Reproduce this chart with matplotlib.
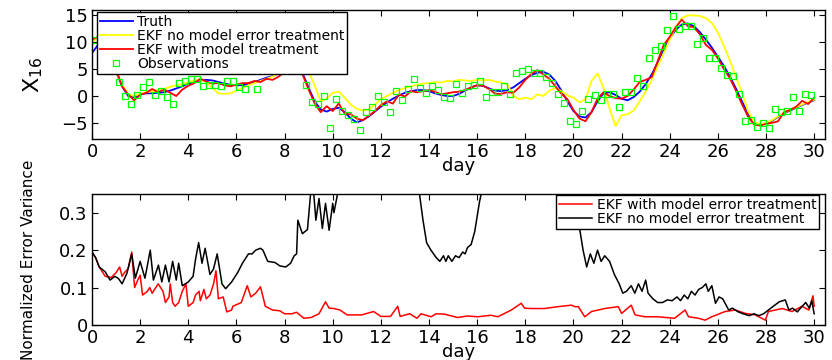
import numpy as np
import matplotlib
matplotlib.use("Agg")
import matplotlib.pyplot as plt

# ---- top panel: X16 state, sampled every 0.25 day ----
day = np.arange(121) * 0.25

truth = [8.0, 9.5, 10.2, 8.0, 4.5, 1.8, 0.0, -0.2, 0.3, 0.5,
         0.5, 0.6, 0.7, 1.0, 1.4, 1.8, 2.3, 2.6, 2.9, 3.0,
         2.9, 2.6, 2.3, 2.1, 2.0, 2.0, 2.3, 2.6, 3.0, 3.4,
         3.7, 4.2, 4.8, 5.3, 5.5, 4.2, 1.5, -1.0, -2.5, -2.9,
         -2.4, -2.2, -3.0, -4.2, -4.9, -4.5, -3.8, -2.9, -2.0, -1.2,
         -0.5, 0.1, 0.6, 0.9, 1.1, 1.1, 0.9, 0.5, 0.2, 0.0,
         0.0, 0.4, 1.0, 1.6, 2.0, 1.9, 1.4, 1.0, 0.9, 1.1,
         1.6, 2.4, 3.2, 3.9, 4.3, 4.5, 4.0, 2.8, 1.0, -1.0,
         -2.8, -3.8, -4.0, -3.0, -1.0, 0.5, 0.7, 0.2, -0.5, -0.8,
         -0.2, 0.8, 2.2, 4.0, 6.2, 8.6, 10.7, 12.3, 13.3, 13.5,
         13.0, 11.9, 10.5, 9.0, 7.3, 5.6, 3.6, 1.4, -1.0, -3.3,
         -5.0, -5.3, -5.1, -4.6, -3.9, -3.2, -2.7, -2.2, -1.7, -1.2,
         -0.8]

ekf_no = [10.0, 11.0, 11.5, 9.0, 4.5, 2.2, 0.3, 0.0, 0.4, 0.7,
          0.9, 1.1, 1.3, 1.7, 2.0, 2.2, 2.6, 2.9, 3.0, 2.6,
          1.5, 0.5, 0.4, 0.5, 1.0, 1.5, 2.0, 2.4, 2.8, 3.2,
          3.6, 4.3, 5.0, 5.8, 6.3, 6.0, 4.5, 2.0, -1.0, -0.5,
          0.6, 0.8, -0.3, -1.6, -2.4, -2.7, -2.5, -1.6, -0.6, 0.0,
          0.6, 1.1, 1.5, 1.8, 2.1, 2.3, 2.4, 2.6, 2.5, 2.8,
          2.7, 3.0, 2.9, 2.8, 3.0, 2.9, 3.0, 2.7, 2.5, 2.2,
          0.0, -0.6, -0.3, -0.6, 0.3, 0.0, 1.0, 1.5, 0.9, 0.1,
          -0.3, -1.2, -0.6, 2.8, 4.2, 1.5, -2.3, -5.6, -3.6, -3.4,
          -2.7, -1.0, 0.8, 3.0, 5.5, 8.0, 10.5, 12.8, 14.5, 15.0,
          15.0, 14.9, 14.5, 13.6, 11.8, 9.3, 6.6, 3.5, 0.6, -2.8,
          -4.8, -5.3, -5.0, -4.5, -3.8, -3.1, -2.6, -2.1, -1.6, -1.1,
          -0.7]

ekf_with = [10.5, 11.0, 10.5, 8.5, 5.0, 1.8, 0.3, -0.8, 0.2, 0.6,
            1.3, 0.7, 1.2, 0.6, 0.0, 1.2, 1.9, 2.4, 3.2, 2.7,
            2.3, 2.4, 2.0, 1.8, 2.1, 2.4, 2.4, 2.8, 2.6, 3.2,
            3.0, 3.6, 4.5, 5.2, 5.6, 4.0, 1.2, -1.4, -3.0, -1.9,
            -2.8, -1.4, -3.3, -3.4, -4.2, -4.5, -3.7, -2.8, -1.7, -1.0,
            -1.4, 0.3, -0.1, 0.9, 0.7, 0.9, 1.1, 0.8, 0.3, 0.5,
            0.7, 0.8, 1.1, 1.6, 2.0, 1.9, 1.3, 0.4, 0.4, 0.7,
            0.6, 1.6, 3.0, 4.1, 4.8, 4.0, 3.2, 1.8, 0.4, -0.6,
            -2.6, -4.2, -4.7, -3.0, -0.5, 0.7, 0.0, -0.4, -0.5, 0.0,
            1.2, 2.6, 3.0, 3.5, 6.5, 9.5, 11.0, 12.8, 14.2, 13.0,
            12.8, 11.5, 9.5, 8.6, 7.0, 5.0, 3.3, 1.0, -1.5, -3.8,
            -5.3, -5.5, -5.2, -5.0, -4.7, -3.0, -2.6, -2.0, -0.9, -1.5,
            -0.3]

# observations every 0.25 day starting at 0.125
obs_day = 0.125 + np.arange(120) * 0.25
obs = [10.5, 11.5, 9.5, 7.0, 2.6, 0.0, -1.5, 0.2, 1.6, 2.6,
       0.1, 1.0, -0.2, -1.5, 2.4, 2.7, 3.2, 3.2, 1.9, 2.1,
       2.1, 1.85, 2.8, 2.8, 1.6, 1.3, 5.0, 1.3, 5.2, 5.0,
       5.4, 5.5, 5.6, 6.2, 5.5, 2.0, -1.05, -1.5, 0.0, -5.9,
       -0.6, -2.8, -3.5, -4.3, -6.4, -2.9, -2.0, 0.0, -1.05, -2.9,
       1.0, -0.7, 1.35, 3.1, 1.5, 0.5, 1.85, 1.1, -0.1, -0.3,
       2.3, 0.5, 1.85, 2.0, 2.7, -0.25, 0.7, 0.7, 1.9, 0.4,
       4.3, 4.6, 5.1, 4.2, 4.2, 3.6, 2.5, 0.45, -1.3, -4.6,
       -5.2, -2.8, -0.5, 0.2, -0.7, 0.3, 0.3, -2.0, 0.8, 0.8,
       3.3, 1.9, 7.1, 8.6, 9.3, 12.2, 14.9, 12.5, 13.1, 13.1,
       9.6, 10.7, 7.1, 7.0, 5.3, 4.0, 3.7, 0.3, -4.6, -4.4,
       -5.7, -5.1, -5.9, -2.4, -3.0, -2.8, -0.1, -2.8, 0.4, 0.1]

# ---- bottom panel: normalized error variance ----
no_t = [0, 0.15, 0.3, 0.55, 0.75, 0.95, 1.1, 1.25, 1.45, 1.65,
        1.8, 2.0, 2.2, 2.42, 2.55, 2.76, 2.9, 3.05, 3.2, 3.35,
        3.5, 3.6, 3.75, 4.0, 4.2, 4.3, 4.43, 4.57, 4.7, 4.9,
        5.05, 5.2, 5.4, 5.55, 5.8, 6.05, 6.25, 6.5, 6.65, 6.8,
        7.0, 7.1, 7.3, 7.6, 7.8, 8.05, 8.25, 8.4, 8.5, 8.55,
        8.74, 8.95, 9.08, 9.2, 9.3, 9.43, 9.57, 9.7, 9.85, 10.0,
        10.05, 10.2, 10.4, 11.0, 12.0, 13.0, 13.5, 13.75, 13.9, 14.08,
        14.3, 14.45, 14.6, 14.7, 14.8, 14.95, 15.1, 15.25, 15.4, 15.5,
        15.6, 15.75, 15.9, 16.1, 16.5, 18.0, 19.5, 19.85, 20.0, 20.1,
        20.25, 20.4, 20.55, 20.7, 20.85, 21.0, 21.15, 21.3, 21.5, 21.7,
        21.9, 22.05, 22.2, 22.4, 22.55, 22.7, 22.85, 23.0, 23.1, 23.3,
        23.5, 23.7, 23.9, 24.1, 24.3, 24.45, 24.6, 24.75, 24.9, 25.05,
        25.2, 25.35, 25.5, 25.6, 25.75, 25.9, 26.05, 26.2, 26.45, 26.6,
        26.85, 27.05, 27.3, 27.5, 27.7, 27.9, 28.1, 28.3, 28.55, 28.8,
        28.95, 29.1, 29.3, 29.5, 29.65, 29.8, 29.9, 30.0]
no_var = [0.195, 0.18, 0.155, 0.142, 0.12, 0.13, 0.124, 0.11, 0.138, 0.19,
          0.125, 0.17, 0.125, 0.2, 0.12, 0.16, 0.115, 0.16, 0.115, 0.17,
          0.12, 0.165, 0.105, 0.115, 0.13, 0.175, 0.22, 0.165, 0.205, 0.135,
          0.15, 0.19, 0.11, 0.097, 0.115, 0.14, 0.165, 0.19, 0.19, 0.2,
          0.205, 0.2, 0.17, 0.167, 0.158, 0.155, 0.165, 0.185, 0.19, 0.28,
          0.244, 0.255, 0.35, 0.36, 0.28, 0.338, 0.258, 0.325, 0.253, 0.325,
          0.3, 0.35, 0.42, 0.55, 0.6, 0.5, 0.4, 0.28, 0.22, 0.2,
          0.18, 0.17, 0.185, 0.17, 0.185, 0.17, 0.185, 0.18, 0.195, 0.19,
          0.207, 0.215, 0.25, 0.33, 0.45, 0.6, 0.45, 0.36, 0.3, 0.275,
          0.26, 0.2, 0.155, 0.19, 0.165, 0.2, 0.17, 0.185, 0.17, 0.135,
          0.11, 0.085, 0.09, 0.105, 0.085, 0.11, 0.09, 0.12, 0.085, 0.07,
          0.06, 0.06, 0.067, 0.065, 0.075, 0.065, 0.08, 0.07, 0.09, 0.08,
          0.095, 0.1, 0.11, 0.09, 0.105, 0.058, 0.075, 0.07, 0.04, 0.045,
          0.035, 0.03, 0.025, 0.03, 0.025, 0.03, 0.04, 0.05, 0.062, 0.067,
          0.04, 0.045, 0.035, 0.05, 0.06, 0.045, 0.065, 0.03]

with_t = [0, 0.15, 0.3, 0.55, 0.8, 1.0, 1.15, 1.25, 1.35, 1.5,
          1.65, 1.77, 1.9, 2.0, 2.1, 2.3, 2.4, 2.5, 2.75, 2.95,
          3.05, 3.2, 3.25, 3.35, 3.45, 3.6, 3.75, 3.9, 4.0, 4.2,
          4.3, 4.45, 4.5, 4.65, 4.75, 4.9, 5.05, 5.15, 5.25, 5.45,
          5.6, 5.8, 5.85, 6.2, 6.45, 6.6, 6.8, 7.0, 7.2, 7.5,
          7.8, 8.0, 8.3, 8.5, 8.8, 9.1, 9.43, 9.7, 9.85, 10.05,
          10.3, 10.6, 11.2, 11.7, 12.0, 12.4, 12.7, 12.8, 13.2, 13.5,
          13.67, 14.08, 14.3, 14.64, 15.19, 15.6, 16.03, 16.58, 16.86, 17.42,
          17.83, 17.97, 18.25, 18.8, 19.36, 19.92, 20.06, 20.2, 20.47, 20.75,
          21.3, 21.86, 22.0, 22.4, 22.56, 22.97, 23.5, 24.2, 24.64, 24.78,
          25.19, 25.47, 25.75, 26.3, 26.72, 27.14, 27.55, 27.97, 28.1, 28.67,
          29.08, 29.5, 29.78, 29.95, 30.0]
with_var = [0.195, 0.18, 0.155, 0.13, 0.127, 0.14, 0.155, 0.13, 0.14, 0.15,
            0.195, 0.1, 0.12, 0.133, 0.08, 0.09, 0.1, 0.085, 0.11, 0.09,
            0.06, 0.075, 0.11, 0.06, 0.05, 0.06, 0.09, 0.11, 0.05, 0.06,
            0.08, 0.09, 0.065, 0.095, 0.07, 0.08, 0.11, 0.145, 0.07, 0.075,
            0.035, 0.04, 0.05, 0.06, 0.105, 0.075, 0.085, 0.102, 0.05, 0.04,
            0.038, 0.03, 0.03, 0.034, 0.018, 0.02, 0.03, 0.062, 0.045, 0.044,
            0.04, 0.027, 0.027, 0.036, 0.023, 0.023, 0.05, 0.023, 0.03, 0.018,
            0.03, 0.022, 0.03, 0.029, 0.02, 0.024, 0.022, 0.026, 0.022, 0.04,
            0.058, 0.045, 0.044, 0.044, 0.049, 0.053, 0.049, 0.049, 0.022, 0.036,
            0.044, 0.049, 0.031, 0.053, 0.027, 0.022, 0.022, 0.018, 0.04, 0.022,
            0.018, 0.013, 0.022, 0.036, 0.04, 0.031, 0.027, 0.013, 0.036, 0.044,
            0.036, 0.05, 0.04, 0.078, 0.05]

W, H = 832, 360
fig = plt.figure(figsize=(W / 100, H / 100), dpi=100)
plt.rcParams['font.family'] = ['DejaVu Sans']

ax1 = fig.add_axes([92 / W, 1 - 139 / H, 733 / W, 129 / H])
ax2 = fig.add_axes([92 / W, 1 - 325 / H, 733 / W, 131 / H])

leg_kw = dict(borderaxespad=0, fontsize=10, labelspacing=0.0, handlelength=2.4,
              handletextpad=0.3, borderpad=0.2, fancybox=False, framealpha=1,
              edgecolor='black')

ax1.plot(day, truth, color='#0000ff', lw=1.3, label='Truth')
ax1.plot(day, ekf_no, color='#ffff00', lw=1.3, label='EKF no model error treatment')
ax1.plot(day, ekf_with, color='#ff0000', lw=1.3, label='EKF with model treatment')
ax1.plot(obs_day, obs, ls='none', marker='s', ms=4, mfc='none', mec='#00ff00',
         mew=0.9, label='Observations')
ax1.set_xlim(0, 30.45)
ax1.set_ylim(-8, 16)
ax1.set_yticks([-5, 0, 5, 10, 15])
ax1.set_ylabel(r'$\mathregular{X_{16}}$', fontsize=16)
ax1.yaxis.set_label_coords(-0.064, 0.5)
ax1.set_xlabel('day', fontsize=13, labelpad=-3)
ax1.legend(loc='upper left', bbox_to_anchor=(5 / 733, 1 - 2 / 129), **leg_kw)

ax2.plot(with_t, with_var, color='#ff0000', lw=1.1, label='EKF with model error treatment')
ax2.plot(no_t, no_var, color='black', lw=1.1, label='EKF no model error treatment')
ax2.set_xlim(0, 30.45)
ax2.set_ylim(0, 0.35)
ax2.set_yticks([0, 0.1, 0.2, 0.3])
ax2.set_yticklabels(['0', '0.1', '0.2', '0.3'])
ax2.set_ylabel('Normalized Error Variance', fontsize=11)
ax2.yaxis.set_label_coords(-0.076, 0.5)
ax2.set_xlabel('day', fontsize=13, labelpad=-3)
ax2.legend(loc='upper right', bbox_to_anchor=(1 - 6 / 733, 1 - 1 / 131), **leg_kw)

for ax in (ax1, ax2):
    ax.set_xticks(np.arange(0, 31, 2))
    ax.tick_params(direction='in', top=True, right=True, length=4, width=0.8,
                   labelsize=13, pad=3)
    for s in ax.spines.values():
        s.set_linewidth(1.0)

fig.savefig('out.png', dpi=100)
